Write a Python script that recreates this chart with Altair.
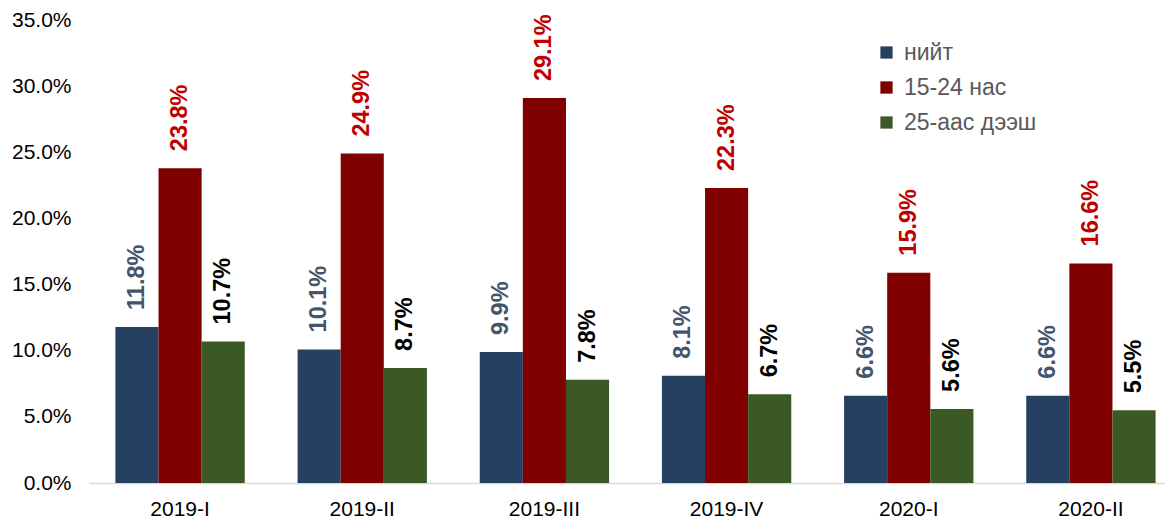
import altair as alt
import pandas as pd

quarters = ["2019-I", "2019-II", "2019-III", "2019-IV", "2020-I", "2020-II"]
series = ["нийт", "15-24 нас", "25-аас дээш"]
total = [11.8, 10.1, 9.9, 8.1, 6.6, 6.6]
youth = [23.8, 24.9, 29.1, 22.3, 15.9, 16.6]
adult = [10.7, 8.7, 7.8, 6.7, 5.6, 5.5]

bar_colors = ["#254061", "#800000", "#3B5925"]
label_colors = ["#44546A", "#C00000", "#000000"]

rows = []
for s_idx, (name, vals) in enumerate(zip(series, [total, youth, adult])):
    for q, v in zip(quarters, vals):
        rows.append({"q": q, "s": name, "v": v / 100, "lab": f"{v:.1f}%",
                     "lc": label_colors[s_idx]})
df = pd.DataFrame(rows)

FONT = "Liberation Sans"

x = alt.X("q:N", sort=quarters, title=None,
          scale=alt.Scale(paddingInner=0.29, paddingOuter=0.145, range=[0, 1093]),
          axis=alt.Axis(labelAngle=0, labelFontSize=21, labelColor="#000000", labelFont=FONT,
                        domainColor="#d9d9d9", domainWidth=1.5, ticks=False, labelPadding=15))
y = alt.Y("v:Q", title=None,
          scale=alt.Scale(domain=[0, 0.35], nice=False),
          axis=alt.Axis(format=".1%", values=[0, 0.05, 0.1, 0.15, 0.2, 0.25, 0.3, 0.35],
                        grid=False, domain=False, ticks=False, labelFontSize=21,
                        labelColor="#000000", labelFont=FONT, labelPadding=18))
xo = alt.XOffset("s:N", sort=series)

bars = alt.Chart(df).mark_bar().encode(
    x=x, y=y, xOffset=xo,
    color=alt.Color("s:N", sort=series,
                    scale=alt.Scale(domain=series, range=bar_colors),
                    legend=alt.Legend(title=None, orient="none", legendX=786, legendY=21,
                                      symbolType="square", symbolSize=150, symbolStrokeWidth=0,
                                      labelFontSize=23, labelFont=FONT, labelColor="#595959",
                                      rowPadding=11, labelOffset=6, labelLimit=300)),
)

labels = alt.Chart(df).mark_text(angle=270, align="left", baseline="middle", dx=17,
                                 fontSize=23.5, fontWeight="bold", font=FONT).encode(
    x=x, y=y, xOffset=xo,
    text="lab:N",
    color=alt.Color("lc:N", scale=None),
)

chart = (bars + labels).properties(
    width=1076, height=463,
    autosize=alt.AutoSizeParams(type="none"),
    padding={"left": 81, "top": 12, "right": 0, "bottom": 38},
).configure_view(stroke=None)

chart.save("out.html", embed_options={"renderer": "svg", "actions": False})
